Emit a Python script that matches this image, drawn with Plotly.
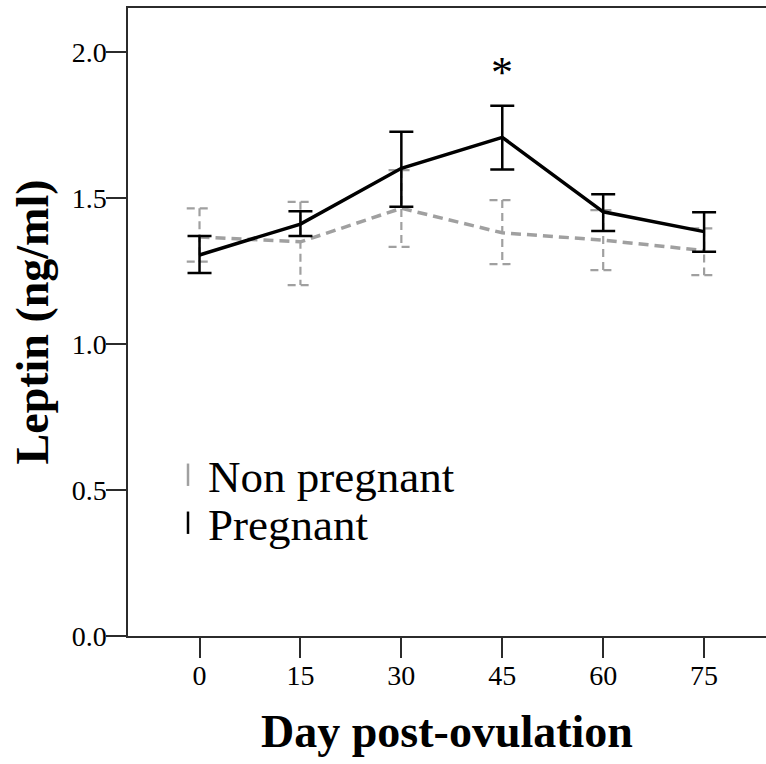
import plotly.graph_objects as go

# ---- data ----
days = [0, 15, 30, 45, 60, 75]
preg_mean = [1.305, 1.411, 1.602, 1.708, 1.453, 1.385]
preg_upper = [1.370, 1.455, 1.727, 1.816, 1.513, 1.451]
preg_lower = [1.243, 1.370, 1.470, 1.598, 1.387, 1.316]
nonpreg_mean = [1.367, 1.350, 1.465, 1.381, 1.356, 1.320]
nonpreg_upper = [1.465, 1.487, 1.596, 1.493, 1.459, 1.396]
nonpreg_lower = [1.282, 1.202, 1.333, 1.274, 1.253, 1.236]
y_ticks = [0.0, 0.5, 1.0, 1.5, 2.0]
y_tick_labels = ["0.0", "0.5", "1.0", "1.5", "2.0"]
series_names = ["Non pregnant", "Pregnant"]
sig_day = 45
sig_label = "*"

FONT = "Liberation Serif, Times New Roman, serif"
AX = "#2b2b2b"
GRAY = "#a0a0a0"

fig = go.Figure()

# Non pregnant mean line (gray, dashed)
fig.add_trace(go.Scatter(
    x=days, y=nonpreg_mean, mode="lines",
    line=dict(color=GRAY, width=3.5, dash="10px,6px"),
    showlegend=False, hoverinfo="skip"))

# Non pregnant error bars (gray, dashed) built from the data arrays
cap = 1.9
ex, ey = [], []
for d, lo, hi in zip(days, nonpreg_lower, nonpreg_upper):
    ex += [d - cap, d + cap, None, d, d, None, d - cap, d + cap, None]
    ey += [hi, hi, None, hi, lo, None, lo, lo, None]
fig.add_trace(go.Scatter(
    x=ex, y=ey, mode="lines",
    line=dict(color=GRAY, width=2.2, dash="8px,5px"),
    showlegend=False, hoverinfo="skip"))

# Pregnant mean line with error bars (black)
fig.add_trace(go.Scatter(
    x=days, y=preg_mean, mode="lines",
    line=dict(color="black", width=3.5),
    error_y=dict(type="data", symmetric=False,
                 array=[u - m for u, m in zip(preg_upper, preg_mean)],
                 arrayminus=[m - l for m, l in zip(preg_mean, preg_lower)],
                 color="black", thickness=2.5, width=12),
    showlegend=False))

# Legend entries (one legend each, to control spacing)
fig.add_trace(go.Scatter(
    x=[None], y=[None], mode="markers", name=series_names[0], legend="legend",
    marker=dict(symbol="line-ns", size=16, color=GRAY,
                line=dict(color=GRAY, width=2.5))))
fig.add_trace(go.Scatter(
    x=[None], y=[None], mode="markers", name=series_names[1], legend="legend2",
    marker=dict(symbol="line-ns", size=16, color="black",
                line=dict(color="black", width=2.5))))

# significance marker
i = days.index(sig_day)
fig.add_annotation(x=sig_day, y=preg_upper[i] + 0.115, text=sig_label,
                   showarrow=False, yanchor="middle",
                   font=dict(family=FONT, size=44, color="black"))

leg_common = dict(xanchor="left", yanchor="top", bgcolor="rgba(0,0,0,0)",
                  borderwidth=0, font=dict(family=FONT, size=45, color="black"),
                  itemsizing="trace")

fig.update_layout(
    width=766, height=764,
    margin=dict(l=128, r=0, t=8, b=128),
    paper_bgcolor="white", plot_bgcolor="white",
    font=dict(family=FONT, color="black"),
    showlegend=True,
    legend=dict(x=0.0627, y=0.3137, **leg_common),
    legend2=dict(x=0.0627, y=0.2373, **leg_common),
    xaxis=dict(range=[-10.63, 84.2], tickvals=days,
               ticks="outside", ticklen=20, tickwidth=1.5, tickcolor=AX,
               ticklabelstandoff=-6,
               showline=True, linecolor=AX, linewidth=1.5, mirror=True,
               showgrid=False, zeroline=False,
               tickfont=dict(family=FONT, size=28, color="black"),
               title=dict(text="Day post-ovulation", standoff=24,
                          font=dict(family=FONT, size=46, color="black",
                                    weight="bold"))),
    yaxis=dict(range=[0, 2.151], tickvals=y_ticks, ticktext=y_tick_labels,
               ticks="outside", ticklen=20, tickwidth=1.5, tickcolor=AX,
               ticklabelstandoff=-6,
               showline=True, linecolor=AX, linewidth=1.5, mirror=False,
               showgrid=False, zeroline=False,
               tickfont=dict(family=FONT, size=28, color="black"),
               title=dict(text="Leptin (ng/ml)", standoff=9,
                          font=dict(family=FONT, size=46, color="black",
                                    weight="bold"))),
)

fig.write_html("out.html",
               config={"displayModeBar": False},
               post_script="document.body.style.margin='0';")
